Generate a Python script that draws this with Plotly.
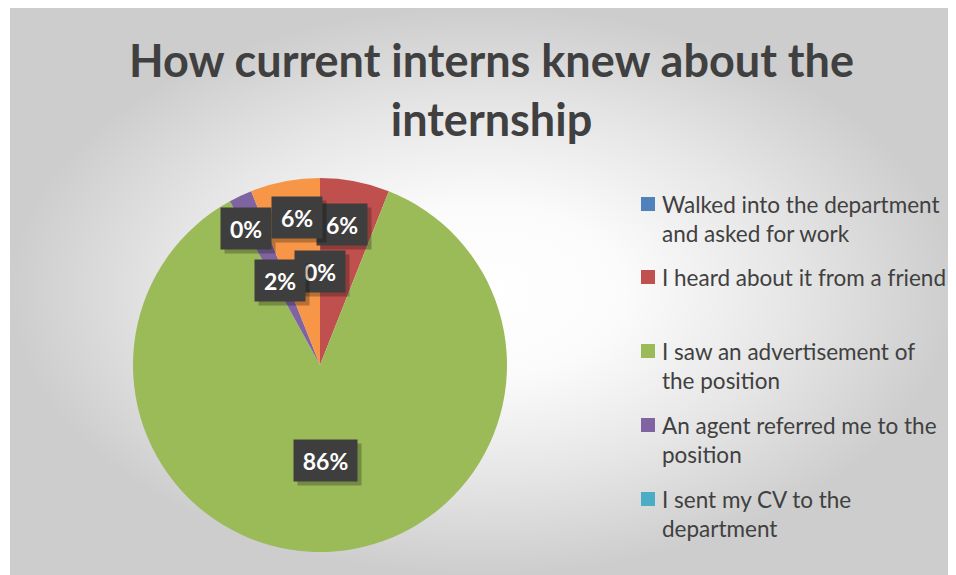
import math
import plotly.graph_objects as go

W, H = 956, 575
OFF = 8  # page body margin; figure is sized to end at the window edge

# data
labels = [
    "Walked into the department and asked for work",
    "I heard about it from a friend",
    "I saw an advertisement of the position",
    "An agent referred me to the position",
    "I sent my CV to the department",
    "Other",
]
counts = [0, 3, 43, 1, 0, 3]
colours = ["#4F81BD", "#C0504D", "#9BBB59", "#8064A2", "#4BACC6", "#F79646"]

# legend text as wrapped in the original (the orange slice has no entry)
legend_lines = [
    ["Walked into the department", "and asked for work"],
    ["I heard about it from a friend"],
    ["I saw an advertisement of", "the position"],
    ["An agent referred me to the", "position"],
    ["I sent my CV to the", "department"],
]

# label placement: fraction of radius and angular nudge (deg) per slice
label_r = [0.50, 0.76, 0.51, 0.50, 0.83, 0.80]
label_nudge = [0, -2, 0, 0, -7, 2]

TEXT = "#404040"
FONT = "Lato"

# pie geometry in window pixels
cx, cy, R = 320, 365, 187
fw, fh = W - OFF, H - OFF

fig = go.Figure()

# background panel with radial gradient
fig.add_trace(
    go.Scatter(
        x=[10, W, W, 10, 10],
        y=[7, 7, H, H, 7],
        mode="lines",
        line=dict(width=0),
        fill="toself",
        fillgradient=dict(
            type="radial",
            colorscale=[[0, "#ffffff"], [0.3, "#fbfbfb"], [0.65, "#e6e6e6"], [1, "#cdcdcd"]],
        ),
        hoverinfo="skip",
        showlegend=False,
    )
)

fig.add_trace(
    go.Pie(
        labels=labels,
        values=counts,
        marker=dict(colors=colours, line=dict(width=0)),
        sort=False,
        direction="clockwise",
        rotation=0,
        textinfo="none",
        hoverinfo="label+percent",
        showlegend=False,
        domain=dict(
            x=[(cx - R - OFF) / fw, (cx + R - OFF) / fw],
            y=[(H - cy - R) / fh, (H - cy + R) / fh],
        ),
    )
)

# data labels
total = sum(counts)
cum = 0
annotations = []
for i, v in enumerate(counts):
    mid = (cum + v / 2) / total * 360 + label_nudge[i]
    cum += v
    lx = cx + label_r[i] * R * math.sin(math.radians(mid))
    ly = cy - label_r[i] * R * math.cos(math.radians(mid))
    txt = f"{round(100 * v / total)}%"
    bw = 46 if len(txt) < 3 else 59
    common = dict(x=lx, y=ly, xref="x", yref="y", showarrow=False, width=bw, height=37, borderpad=2)
    annotations.append(
        dict(text=txt, font=dict(color="rgba(0,0,0,0)", size=23, family=FONT),
             bgcolor="rgba(0,0,0,0.25)", xshift=4, yshift=-4, **common)
    )
    annotations.append(
        dict(text=f"<b>{txt}</b>", font=dict(color="white", size=23, family=FONT),
             bgcolor="#3e3e3e", **common)
    )

# title
annotations.append(
    dict(
        text="<b>How current interns knew about the<br>internship</b>",
        x=491, y=89, xref="x", yref="y", showarrow=False,
        font=dict(size=45, color=TEXT, family=FONT),
    )
)

# manual legend
shapes = [
    dict(type="rect", xref="x", yref="y", x0=623, x1=954, y0=183, y1=551,
         fillcolor="rgba(255,255,255,0.3)", line=dict(width=0), layer="below")
]
item_y = [204, 277, 351, 425, 499]
for i, lines in enumerate(legend_lines):
    y0 = item_y[i]
    shapes.append(
        dict(type="rect", xref="x", yref="y", x0=641, x1=655, y0=y0 - 7, y1=y0 + 7,
             fillcolor=colours[i], line=dict(width=0))
    )
    for j, line in enumerate(lines):
        annotations.append(
            dict(text=line, x=660, y=y0 + 29 * j, xref="x", yref="y", xanchor="left",
                 showarrow=False, font=dict(size=22.5, color=TEXT, family=FONT))
        )

fig.update_layout(
    width=fw,
    height=fh,
    margin=dict(l=0, r=0, t=0, b=0),
    paper_bgcolor="white",
    plot_bgcolor="rgba(0,0,0,0)",
    xaxis=dict(range=[OFF, W], visible=False, fixedrange=True),
    yaxis=dict(range=[H, OFF], visible=False, fixedrange=True),
    annotations=annotations,
    shapes=shapes,
    showlegend=False,
)

fig.write_html("out.html")
